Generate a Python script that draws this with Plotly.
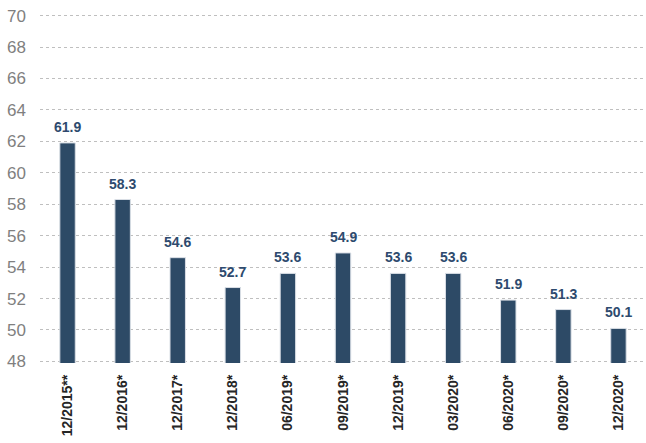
import plotly.graph_objects as go

categories = ["12/2015**", "12/2016*", "12/2017*", "12/2018*", "06/2019*", "09/2019*",
              "12/2019*", "03/2020*", "06/2020*", "09/2020*", "12/2020*"]
values = [61.9, 58.3, 54.6, 52.7, 53.6, 54.9, 53.6, 53.6, 51.9, 51.3, 50.1]
y_ticks = [48, 50, 52, 54, 56, 58, 60, 62, 64, 66, 68, 70]

bar_color = "#2D4A66"
label_color = "#2E4A6E"

fig = go.Figure(go.Bar(
    x=categories,
    y=values,
    width=0.28,
    marker=dict(color=bar_color, line=dict(color="#D9DEE5", width=1)),
    hoverinfo="x+y",
))

for c, v in zip(categories, values):
    fig.add_annotation(
        x=c, y=v, text=f"<b>{v:.1f}</b>", showarrow=False,
        yanchor="middle", yshift=16,
        font=dict(family="Liberation Sans, Arial", size=14, color=label_color),
    )

fig.update_layout(
    width=646, height=443,
    margin=dict(l=40, r=0, t=14, b=80, autoexpand=False),
    plot_bgcolor="white", paper_bgcolor="white",
    showlegend=False,
    font=dict(family="Liberation Sans, Arial"),
)
fig.update_yaxes(
    range=[47.9, 70.1],
    tickvals=y_ticks,
    showgrid=True, gridcolor="#BFBFBF", griddash="dot", gridwidth=1,
    zeroline=False, showline=False,
    tickfont=dict(size=17, color="#7F7F7F"),
    ticklabelstandoff=13,
    automargin=False,
)
fig.update_xaxes(
    tickangle=-90,
    tickvals=categories,
    ticktext=[f"<b>{c}</b>" for c in categories],
    tickfont=dict(size=14, color="#262626"),
    showline=False, showgrid=False, zeroline=False,
    ticklabelstandoff=8,
    automargin=False,
)
fig.write_html("out.html", config={"displayModeBar": False},
               post_script="document.body.style.margin='0';")
